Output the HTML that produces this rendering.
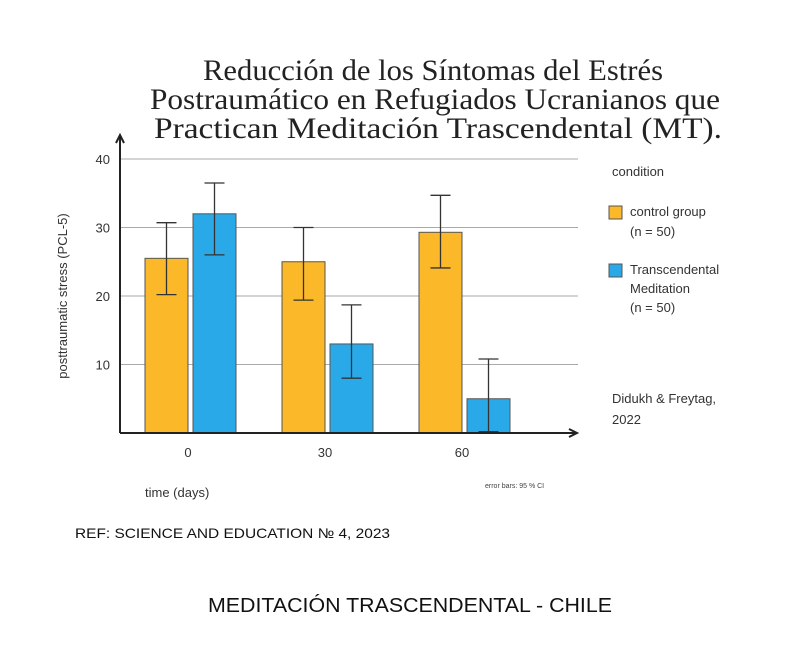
<!DOCTYPE html>
<html><head><meta charset="utf-8"><style>
body{margin:0;width:800px;height:640px;background:#fff;overflow:hidden;font-family:"Liberation Sans",sans-serif}
</style></head><body>
<svg width="800" height="640">
<g font-family="Liberation Serif, serif" font-size="30" fill="#222" text-anchor="middle">
<text x="433" y="80" textLength="460" lengthAdjust="spacingAndGlyphs">Reducción de los Síntomas del Estrés</text>
<text x="435" y="109" textLength="570" lengthAdjust="spacingAndGlyphs">Postraumático en Refugiados Ucranianos que</text>
<text x="438" y="138" textLength="568" lengthAdjust="spacingAndGlyphs">Practican Meditación Trascendental (MT).</text>
</g>
<g id="grid"></g><g id="bars"></g><g id="axes"></g>
<text x="67" y="296" transform="rotate(-90 67 296)" text-anchor="middle" font-size="13" fill="#333">posttraumatic stress (PCL-5)</text>
<text x="145" y="497" font-size="13" fill="#333">time (days)</text>
<text x="485" y="488" font-size="7" fill="#444">error bars: 95 % CI</text>
<g font-size="13" fill="#333">
<text x="612" y="176">condition</text>
<rect x="609" y="206" width="13" height="13" fill="#fbb829" stroke="#555"/>
<text x="630" y="216">control group</text><text x="630" y="236">(n = 50)</text>
<rect x="609" y="264" width="13" height="13" fill="#2aa9e8" stroke="#555"/>
<text x="630" y="274">Transcendental</text><text x="630" y="293">Meditation</text><text x="630" y="312">(n = 50)</text>
<text x="612" y="403">Didukh &amp; Freytag,</text><text x="612" y="424">2022</text>
</g>
<text x="75" y="538" font-size="14" fill="#111" textLength="315" lengthAdjust="spacingAndGlyphs">REF: SCIENCE AND EDUCATION № 4, 2023</text>
<text x="410" y="612" font-size="20" fill="#111" text-anchor="middle" textLength="404" lengthAdjust="spacingAndGlyphs">MEDITACIÓN TRASCENDENTAL - CHILE</text>
</svg>
<script>
const categories=["0","30","60"];
const controlVals=[25.5,25,29.3];
const tmVals=[32,13,5];
const controlLo=[20.2,19.4,24.1];
const controlHi=[30.7,30,34.7];
const tmLo=[26,8,0.2];
const tmHi=[36.5,18.7,10.8];
const yTicks=[10,20,30,40];
const NS="http://www.w3.org/2000/svg";
const y=v=>433-v*6.85;
const xc=i=>209+i*137;
function mk(tag,a,p){const e=document.createElementNS(NS,tag);for(const k in a)e.setAttribute(k,a[k]);p.appendChild(e);return e;}
const grid=document.getElementById('grid'),bars=document.getElementById('bars'),axes=document.getElementById('axes');
yTicks.forEach(t=>{
 const l=mk('line',{x1:120,x2:578,y1:y(t),y2:y(t),stroke:'#aaa','stroke-width':1},grid);
 
 
 const tx=mk('text',{x:110,y:y(t)+5,'text-anchor':'end','font-size':13,fill:'#333'},grid);tx.textContent=t;
 
 
});
function bar(i,v,lo,hi,dx,col,nm){
 const r=mk('rect',{x:xc(i)+dx,y:y(v),width:43,height:y(0)-y(v),fill:col,stroke:'#555','stroke-width':1},bars);
 
 
 const cx=xc(i)+dx+21.5;
 const e=mk('path',{d:`M${cx},${y(lo)}V${y(hi)}M${cx-10},${y(lo)}H${cx+10}M${cx-10},${y(hi)}H${cx+10}`,stroke:'#333','stroke-width':1.3,fill:'none'},bars);
 
 
}
categories.forEach((c,i)=>{
 bar(i,controlVals[i],controlLo[i],controlHi[i],-64,'#fbb829','control');
 bar(i,tmVals[i],tmLo[i],tmHi[i],-16,'#2aa9e8','tm');
 const t=mk('text',{x:xc(i)-21,y:457,'text-anchor':'middle','font-size':13,fill:'#333'},axes);t.textContent=c;
 
 
});
const ax=mk('path',{d:'M120,433V137M116,143L120,135L124,143M120,433H575M569,429L577,433L569,437',stroke:'#222','stroke-width':2,fill:'none'},axes);


</script>
</body></html>
